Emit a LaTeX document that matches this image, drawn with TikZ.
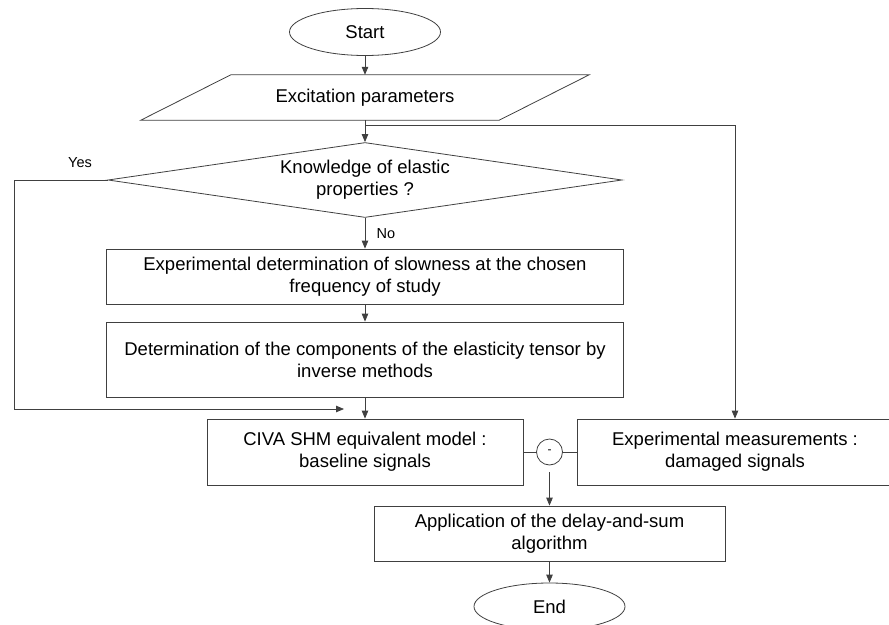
\documentclass[tikz,border=0pt]{standalone}
\usepackage{fontspec}
\setmainfont{Liberation Sans}
\usetikzlibrary{shapes.geometric,arrows.meta}

\tikzset{
	line/.style={draw=black!75,line width=0.8pt},
	arr/.style={line,-{Triangle[length=8pt,width=6.5pt]}},
	terminal/.style={ellipse,line,minimum width=151pt,minimum height=47pt,inner sep=0pt},
	procbox/.style={rectangle,line,align=center,inner sep=0pt},
	decision/.style={diamond,line,aspect=6.85,inner sep=0pt,minimum width=514pt,minimum height=75pt,align=center},
	lbl/.style={font=\fontsize{14.5}{17}\selectfont},
}

\begin{document}
\begin{tikzpicture}[x=1pt,y=-1pt,font=\fontsize{18.5}{22}\selectfont]
	\useasboundingbox (0,0) rectangle (889,624);
	% start and input
	\node[terminal] (start) at (365,32) {Start};
	\node[minimum width=358pt,minimum height=45pt,inner sep=0pt] (exc) at (365,97.5) {Excitation parameters};
	\draw[line] ([xshift=-45pt]exc.south west) -- ([xshift=-45pt]exc.south east)
	-- ([xshift=45pt]exc.north east) -- ([xshift=45pt]exc.north west) -- cycle;
	\coordinate (split) at (365,125);
	% decision
	\node[decision] (know) at (365,180) {Knowledge of elastic\\properties ?};
	\node[lbl] (yes) at (80,163) {Yes};
	\coordinate (yescorner) at (14,409);
	\coordinate (yesend) at (344,409);
	% identification
	\node[procbox,minimum width=517pt,minimum height=55pt] (slow) at (365,276.5)
	{Experimental determination of slowness at the chosen\\frequency of study};
	\node[procbox,minimum width=517pt,minimum height=75pt] (tensor) at (365,359.5)
	{Determination of the components of the elasticity tensor by\\inverse methods};
	% signals
	\node[procbox,minimum width=316pt,minimum height=66pt] (civa) at (365,452)
	{CIVA SHM equivalent model :\\baseline signals};
	\node[procbox,minimum width=316pt,minimum height=66pt] (meas) at (735,452)
	{Experimental measurements :\\damaged signals};
	\node[circle,line,minimum size=26pt,inner sep=0pt,font=\fontsize{12}{14}\selectfont] (diff) at (549.5,452) {-};
	% imaging
	\node[procbox,minimum width=351pt,minimum height=55pt] (das) at (549.5,533.5)
	{Application of the delay-and-sum\\algorithm};
	\node[terminal] (end) at (549.5,606.5) {End};
	% connectors
	\draw[arr] (start) -- (exc);
	\draw[line] (exc.south) -- (split);
	\draw[arr] (split) -- (know.north);
	\draw[arr] (split) -| (meas.north);
	\draw[arr] (know.west) -| (yescorner) -- (yesend);
	\draw[arr] (know.south) -- node[lbl,right,xshift=8pt] (no) {No} (slow.north);
	\draw[arr] (slow) -- (tensor);
	\draw[arr] (tensor) -- (civa);
	\draw[line] (civa.east) -- (diff.west);
	\draw[line] (diff.east) -- (meas.west);
	\draw[arr,shorten <=7pt] (diff.south) -- (das.north);
	\draw[arr] (das) -- (end);
\end{tikzpicture}
\end{document}
